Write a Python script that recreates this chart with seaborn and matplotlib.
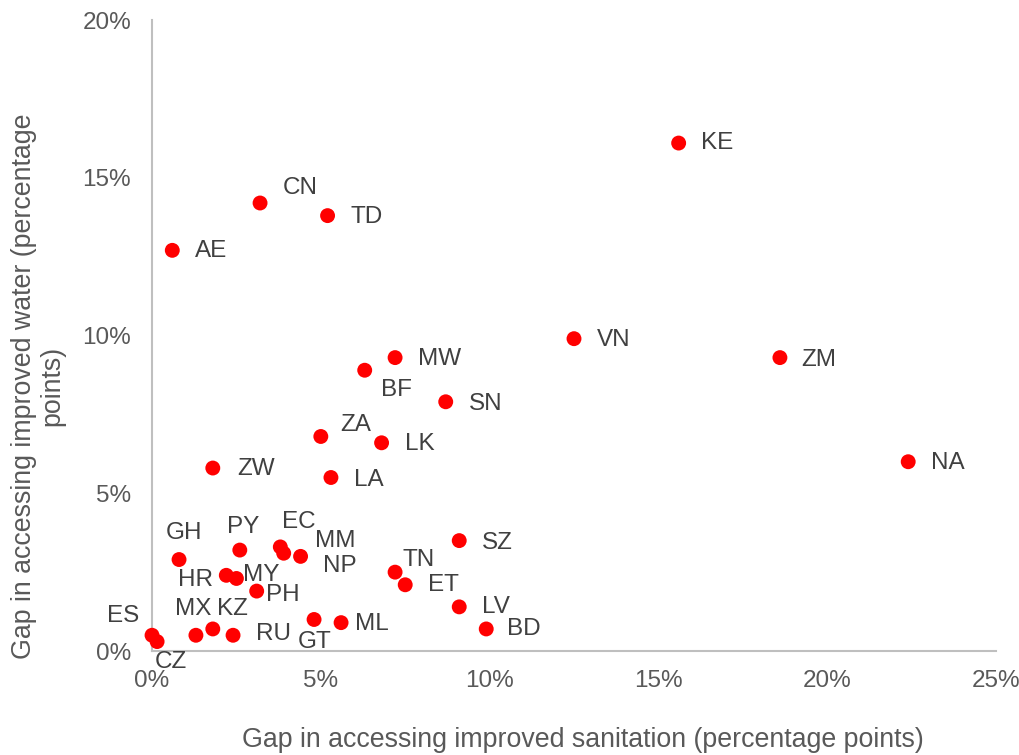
import matplotlib
matplotlib.use("Agg")
import matplotlib.pyplot as plt
import seaborn as sns
import pandas as pd
from matplotlib.ticker import PercentFormatter, MultipleLocator

codes = ["KE", "CN", "TD", "AE", "VN", "ZM", "MW", "BF", "SN", "ZA", "LK", "ZW", "LA", "NA",
         "SZ", "GH", "PY", "EC", "NP", "MM", "HR", "MY", "PH", "ES", "CZ", "MX", "KZ", "RU",
         "GT", "ML", "TN", "ET", "LV", "BD"]
sanitation_gap = [15.6, 3.2, 5.2, 0.6, 12.5, 18.6, 7.2, 6.3, 8.7, 5.0, 6.8, 1.8, 5.3, 22.4,
                  9.1, 0.8, 2.6, 3.8, 3.9, 4.4, 2.2, 2.5, 3.1, 0.0, 0.15, 1.3, 1.8, 2.4,
                  4.8, 5.6, 7.2, 7.5, 9.1, 9.9]
water_gap = [16.1, 14.2, 13.8, 12.7, 9.9, 9.3, 9.3, 8.9, 7.9, 6.8, 6.6, 5.8, 5.5, 6.0,
             3.5, 2.9, 3.2, 3.3, 3.1, 3.0, 2.4, 2.3, 1.9, 0.5, 0.3, 0.5, 0.7, 0.5,
             1.0, 0.9, 2.5, 2.1, 1.4, 0.7]

# label offsets (pixels) relative to the point: (dx to label center, dy up)
label_offsets = {
    "KE": (38, 0), "CN": (40, 15), "TD": (39, -1), "AE": (39, -1), "VN": (40, -1),
    "ZM": (39, -2), "MW": (44, -1), "BF": (32, -20), "SN": (40, -2), "ZA": (35, 11),
    "LK": (38, -1), "ZW": (43, -1), "LA": (38, -2), "NA": (40, -1), "SZ": (38, -2),
    "GH": (5, 27), "PY": (3, 23), "EC": (18, 25), "NP": (56, -13), "MM": (35, 15),
    "HR": (-31, -5), "MY": (25, 3), "PH": (26, -4), "ES": (-29, 19), "CZ": (14, -20),
    "MX": (-3, 26), "KZ": (20, 20), "RU": (40, 1), "GT": (1, -23), "ML": (31, -1),
    "TN": (24, 12), "ET": (38, 0), "LV": (37, 0), "BD": (38, 0),
}

df = pd.DataFrame({"code": codes,
                   "sanitation": [v / 100 for v in sanitation_gap],
                   "water": [v / 100 for v in water_gap]})

sns.set_theme(style="white")
plt.rcParams["font.family"] = ["Liberation Sans", "DejaVu Sans"]

FS = 17.5
FS_AX = 19.3
fig = plt.figure(figsize=(10.19, 7.55), dpi=100)
ax = fig.add_axes([0.1492, 0.1377, 0.8282, 0.8358])

sns.scatterplot(data=df, x="sanitation", y="water", ax=ax, color="#ff0000",
                s=115, edgecolor="none", clip_on=False, zorder=3)

for c, xv, yv in zip(df["code"], df["sanitation"], df["water"]):
    dx, dy = label_offsets[c]
    ax.annotate(c, (xv, yv), xytext=(dx, dy), textcoords="offset pixels",
                ha="center", va="center", fontsize=FS, color="#404040", zorder=4)

ax.set_xlim(0, 0.25)
ax.set_ylim(0, 0.20)
ax.xaxis.set_major_locator(MultipleLocator(0.05))
ax.yaxis.set_major_locator(MultipleLocator(0.05))
ax.xaxis.set_major_formatter(PercentFormatter(1.0, decimals=0))
ax.yaxis.set_major_formatter(PercentFormatter(1.0, decimals=0))

for side in ["top", "right"]:
    ax.spines[side].set_visible(False)
for side in ["left", "bottom"]:
    ax.spines[side].set_color("#bfbfbf")
    ax.spines[side].set_linewidth(1.5)

ax.tick_params(axis="both", direction="in", length=7, width=1.5, color="#bfbfbf",
               labelsize=FS, labelcolor="#595959")
ax.tick_params(axis="x", pad=14)
ax.tick_params(axis="y", pad=15)

ax.set_xlabel("Gap in accessing improved sanitation (percentage points)",
              fontsize=FS_AX, color="#595959")
ax.xaxis.label.set_va("center")
ax.xaxis.set_label_coords(0.510, -0.141)

ax.set_ylabel("Gap in accessing improved water (percentage\npoints)",
              fontsize=FS_AX, color="#595959", linespacing=1.15)
ax.yaxis.label.set_va("center")
ax.yaxis.set_label_coords(-0.135, 0.42)

fig.savefig("out.png", dpi=100)
